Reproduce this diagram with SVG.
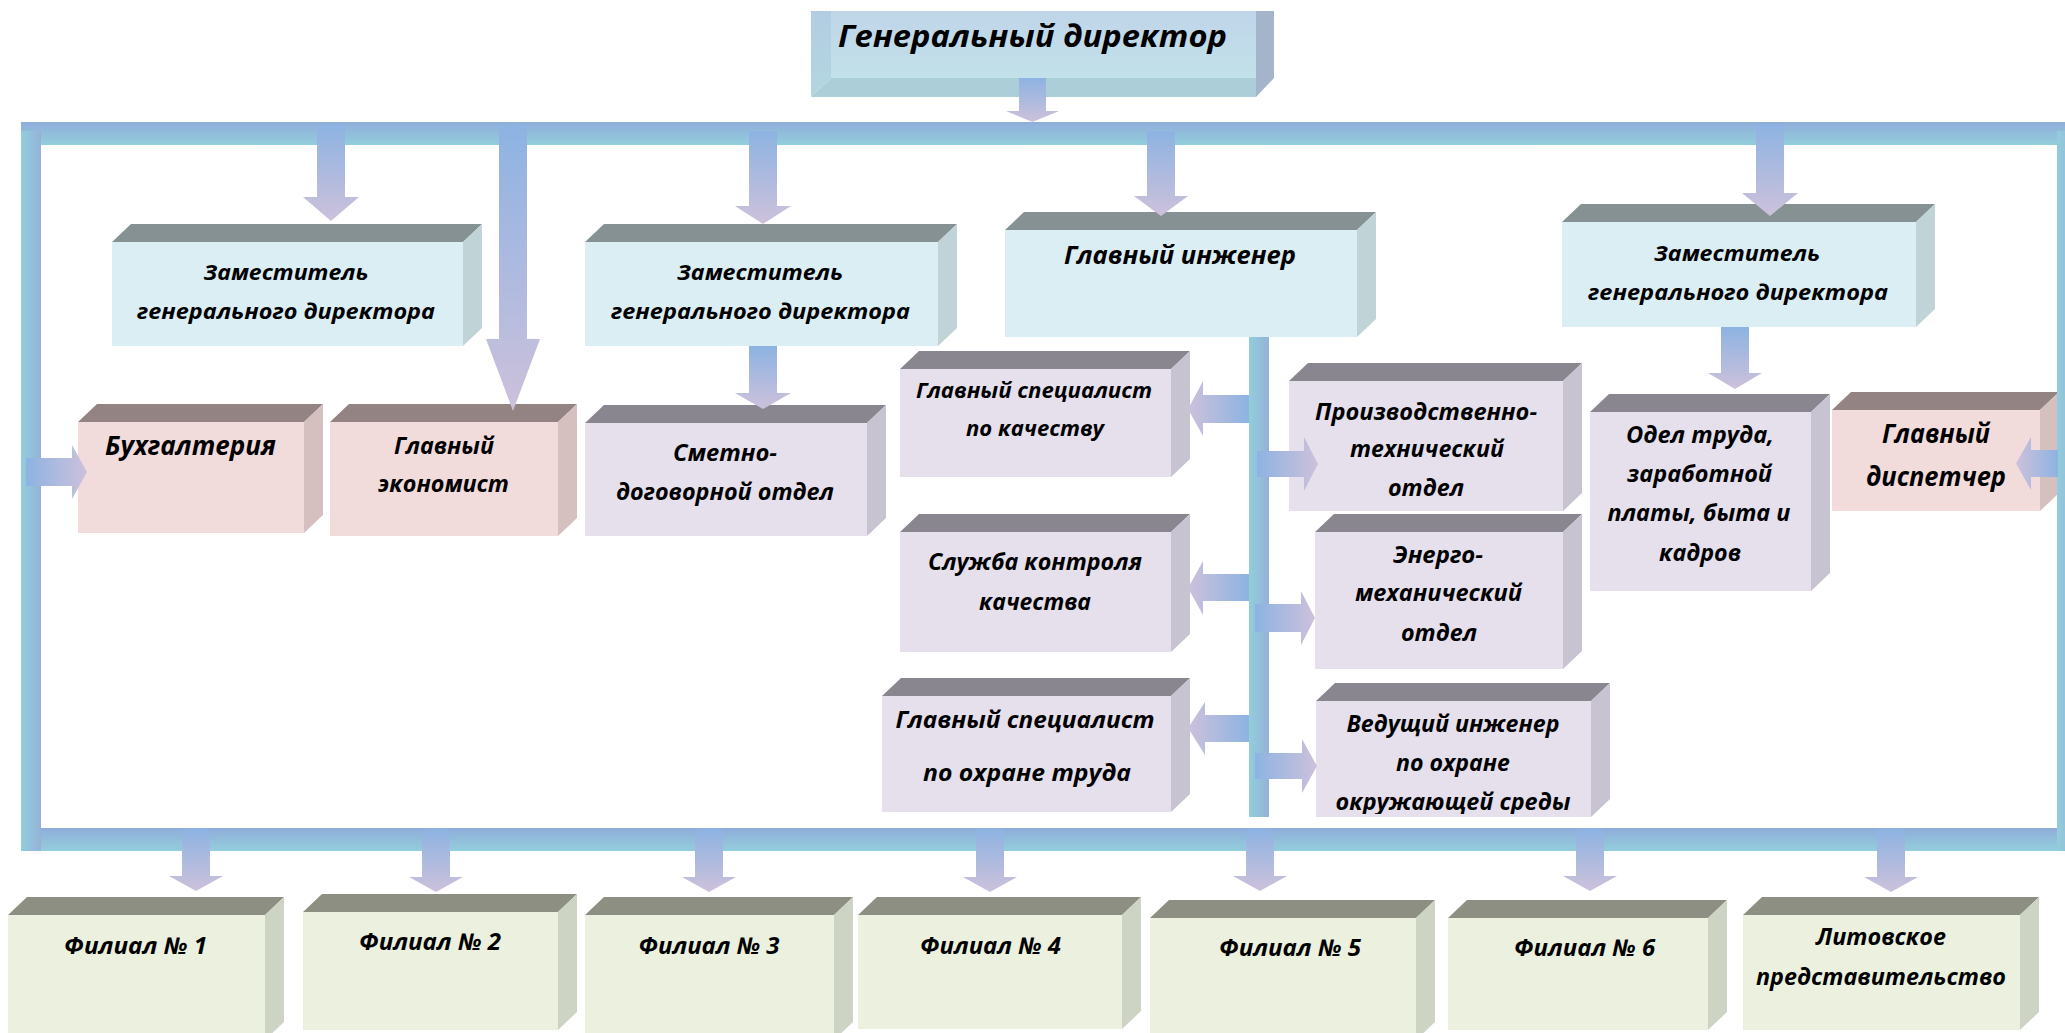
<svg xmlns="http://www.w3.org/2000/svg" width="2065" height="1033" viewBox="0 0 2065 1033">
<defs>
<linearGradient id="gDown" x1="0" y1="0" x2="0" y2="1"><stop offset="0" stop-color="#8DB3E2"/><stop offset="1" stop-color="#CDC1DB"/></linearGradient>
<linearGradient id="gRight" x1="0" y1="0" x2="1" y2="0"><stop offset="0" stop-color="#8DB3E2"/><stop offset="1" stop-color="#CDC1DB"/></linearGradient>
<linearGradient id="gLeft" x1="0" y1="0" x2="1" y2="0"><stop offset="0" stop-color="#CDC1DB"/><stop offset="1" stop-color="#8DB3E2"/></linearGradient>
<linearGradient id="gBandH" x1="0" y1="0" x2="0" y2="1"><stop offset="0" stop-color="#8FADDA"/><stop offset="1" stop-color="#93CEDC"/></linearGradient>
<linearGradient id="gBandV" x1="0" y1="0" x2="1" y2="0"><stop offset="0" stop-color="#92CEDC"/><stop offset="1" stop-color="#95B2D8"/></linearGradient>
<linearGradient id="gGdFront" x1="0" y1="0" x2="0" y2="1"><stop offset="0" stop-color="#BFD5E9"/><stop offset="1" stop-color="#C2E1E9"/></linearGradient>
<linearGradient id="gGdLeft" x1="0" y1="0" x2="0" y2="1"><stop offset="0" stop-color="#B2CDE3"/><stop offset="1" stop-color="#B3D6E0"/></linearGradient>
<clipPath id="clipVed"><rect x="1316" y="701" width="275" height="113"/></clipPath>
<style>
.t{font-family:"Open Sans","Noto Sans","DejaVu Sans",sans-serif;font-weight:700;font-style:italic;fill:#000;text-anchor:middle}
.s20{font-size:21px}.s22{font-size:23px}.s23{font-size:24px}.s25{font-size:26px}.s21{font-size:22px}
.blue .f{fill:#DBEEF4}.blue .tp{fill:#869194}.blue .sd{fill:#C0D4D8}
.pink .f{fill:#F2DCDB}.pink .tp{fill:#938382}.pink .sd{fill:#D6BFBF}
.lav .f{fill:#E5E0EC}.lav .tp{fill:#8A8690}.lav .sd{fill:#C8C3D1}
.grn .f{fill:#EBF1DE}.grn .tp{fill:#8C8F82}.grn .sd{fill:#CDD4C3}
.ad{fill:url(#gDown)}.ar{fill:url(#gRight)}.al{fill:url(#gLeft)}
</style>
</defs>
<rect width="2065" height="1033" fill="#FFFFFF"/>

<g id="nodes">
<g id="n-gd">
<rect x="831" y="11" width="425" height="67" fill="url(#gGdFront)"/>
<polygon points="811,11 831,11 831,78 811,97" fill="url(#gGdLeft)"/>
<polygon points="811,97 831,78 1256,78 1256,97" fill="#ABCED9"/>
<polygon points="1256,11 1274,11 1274,78 1256,97" fill="#A3B4CB"/>
<text class="t" font-size="31" x="1032.5" y="46.5" textLength="389" lengthAdjust="spacingAndGlyphs">Генеральный директор</text>
</g>

<g id="n-zam1" class="blue">
<polygon class="tp" points="112,242 131,224 482,224 463,242"/>
<polygon class="sd" points="463,242 482,224 482,328 463,346"/>
<rect class="f" x="112" y="242" width="351" height="104"/>
<text class="t s21" x="286" y="280" textLength="165" lengthAdjust="spacingAndGlyphs">Заместитель</text>
<text class="t s21" x="286" y="319" textLength="298" lengthAdjust="spacingAndGlyphs">генерального директора</text>
</g>
<g id="n-zam2" class="blue">
<polygon class="tp" points="585,242 604,224 957,224 938,242"/>
<polygon class="sd" points="938,242 957,224 957,328 938,346"/>
<rect class="f" x="585" y="242" width="353" height="104"/>
<text class="t s21" x="760" y="280" textLength="166" lengthAdjust="spacingAndGlyphs">Заместитель</text>
<text class="t s21" x="760.5" y="319" textLength="299" lengthAdjust="spacingAndGlyphs">генерального директора</text>
</g>
<g id="n-gi" class="blue">
<polygon class="tp" points="1005,230 1024,212 1376,212 1357,230"/>
<polygon class="sd" points="1357,230 1376,212 1376,319 1357,337"/>
<rect class="f" x="1005" y="230" width="352" height="107"/>
<text class="t" font-size="25" x="1180" y="264" textLength="232" lengthAdjust="spacingAndGlyphs">Главный инженер</text>
</g>
<g id="n-zam3" class="blue">
<polygon class="tp" points="1562,222 1581,204 1935,204 1916,222"/>
<polygon class="sd" points="1916,222 1935,204 1935,309 1916,327"/>
<rect class="f" x="1562" y="222" width="354" height="105"/>
<text class="t s21" x="1737" y="261" textLength="166" lengthAdjust="spacingAndGlyphs">Заместитель</text>
<text class="t s21" x="1738" y="300" textLength="300" lengthAdjust="spacingAndGlyphs">генерального директора</text>
</g>

<g id="n-buh" class="pink">
<polygon class="tp" points="78,422 97,404 323,404 304,422"/>
<polygon class="sd" points="304,422 323,404 323,515 304,533"/>
<rect class="f" x="78" y="422" width="226" height="111"/>
<text class="t s25" x="190.5" y="455" textLength="171" lengthAdjust="spacingAndGlyphs">Бухгалтерия</text>
</g>
<g id="n-econ" class="pink">
<polygon class="tp" points="330,422 349,404 577,404 558,422"/>
<polygon class="sd" points="558,422 577,404 577,518 558,536"/>
<rect class="f" x="330" y="422" width="228" height="114"/>
<text class="t s22" x="444" y="453.6" textLength="100" lengthAdjust="spacingAndGlyphs">Главный</text>
<text class="t s22" x="443.5" y="492" textLength="131" lengthAdjust="spacingAndGlyphs">экономист</text>
</g>
<g id="n-smet" class="lav">
<polygon class="tp" points="585,423 604,405 886,405 867,423"/>
<polygon class="sd" points="867,423 886,405 886,518 867,536"/>
<rect class="f" x="585" y="423" width="282" height="113"/>
<text class="t s22" x="725" y="461" textLength="104" lengthAdjust="spacingAndGlyphs">Сметно-</text>
<text class="t s22" x="725" y="500" textLength="218" lengthAdjust="spacingAndGlyphs">договорной отдел</text>
</g>
<g id="n-gsk" class="lav">
<polygon class="tp" points="900,369 919,351 1190,351 1171,369"/>
<polygon class="sd" points="1171,369 1190,351 1190,459 1171,477"/>
<rect class="f" x="900" y="369" width="271" height="108"/>
<text class="t s20" x="1034" y="397.5" textLength="236" lengthAdjust="spacingAndGlyphs">Главный специалист</text>
<text class="t s20" x="1035" y="436.4" textLength="138" lengthAdjust="spacingAndGlyphs">по качеству</text>
</g>
<g id="n-pto" class="lav">
<polygon class="tp" points="1289,381 1308,363 1582,363 1563,381"/>
<polygon class="sd" points="1563,381 1582,363 1582,493 1563,511"/>
<rect class="f" x="1289" y="381" width="274" height="130"/>
<text class="t s22" x="1426" y="419.6" textLength="222" lengthAdjust="spacingAndGlyphs">Производственно-</text>
<text class="t s22" x="1427" y="457" textLength="154" lengthAdjust="spacingAndGlyphs">технический</text>
<text class="t s22" x="1426" y="496" textLength="76" lengthAdjust="spacingAndGlyphs">отдел</text>
</g>
<g id="n-otd" class="lav">
<polygon class="tp" points="1590,412 1609,394 1830,394 1811,412"/>
<polygon class="sd" points="1811,412 1830,394 1830,573 1811,591"/>
<rect class="f" x="1590" y="412" width="221" height="179"/>
<text class="t s22" x="1700" y="443" textLength="148" lengthAdjust="spacingAndGlyphs">Одел труда,</text>
<text class="t s22" x="1699.5" y="482" textLength="145" lengthAdjust="spacingAndGlyphs">заработной</text>
<text class="t s22" x="1699" y="521" textLength="183" lengthAdjust="spacingAndGlyphs">платы, быта и</text>
<text class="t s22" x="1700" y="560.5" textLength="82" lengthAdjust="spacingAndGlyphs">кадров</text>
</g>
<g id="n-disp" class="pink">
<polygon class="tp" points="1832,410 1851,392 2059,392 2040,410"/>
<polygon class="sd" points="2040,410 2059,392 2059,493 2040,511"/>
<rect class="f" x="1832" y="410" width="208" height="101"/>
<text class="t s25" x="1936" y="443" textLength="108" lengthAdjust="spacingAndGlyphs">Главный</text>
<text class="t s25" x="1936" y="486" textLength="140" lengthAdjust="spacingAndGlyphs">диспетчер</text>
</g>
<g id="n-skk" class="lav">
<polygon class="tp" points="900,532 919,514 1190,514 1171,532"/>
<polygon class="sd" points="1171,532 1190,514 1190,634 1171,652"/>
<rect class="f" x="900" y="532" width="271" height="120"/>
<text class="t s22" x="1035" y="570" textLength="214" lengthAdjust="spacingAndGlyphs">Служба контроля</text>
<text class="t s22" x="1035" y="609.5" textLength="112" lengthAdjust="spacingAndGlyphs">качества</text>
</g>
<g id="n-emo" class="lav">
<polygon class="tp" points="1315,532 1334,514 1582,514 1563,532"/>
<polygon class="sd" points="1563,532 1582,514 1582,651 1563,669"/>
<rect class="f" x="1315" y="532" width="248" height="137"/>
<text class="t s22" x="1438" y="563" textLength="90" lengthAdjust="spacingAndGlyphs">Энерго-</text>
<text class="t s22" x="1438.5" y="601" textLength="167" lengthAdjust="spacingAndGlyphs">механический</text>
<text class="t s22" x="1439" y="641" textLength="76" lengthAdjust="spacingAndGlyphs">отдел</text>
</g>
<g id="n-gsot" class="lav">
<polygon class="tp" points="882,696 901,678 1190,678 1171,696"/>
<polygon class="sd" points="1171,696 1190,678 1190,794 1171,812"/>
<rect class="f" x="882" y="696" width="289" height="116"/>
<text class="t s23" x="1025" y="728" textLength="259" lengthAdjust="spacingAndGlyphs">Главный специалист</text>
<text class="t s23" x="1027" y="780.6" textLength="208" lengthAdjust="spacingAndGlyphs">по охране труда</text>
</g>
<g id="n-ved" class="lav">
<polygon class="tp" points="1316,701 1335,683 1610,683 1591,701"/>
<polygon class="sd" points="1591,701 1610,683 1610,799 1591,817"/>
<rect class="f" x="1316" y="701" width="275" height="116"/>
<g clip-path="url(#clipVed)">
<text class="t s22" x="1453" y="732" textLength="213" lengthAdjust="spacingAndGlyphs">Ведущий инженер</text>
<text class="t s22" x="1453" y="771.4" textLength="114" lengthAdjust="spacingAndGlyphs">по охране</text>
<text class="t s22" x="1453" y="810" textLength="235" lengthAdjust="spacingAndGlyphs">окружающей среды</text>
</g>
</g>

<g id="n-f1" class="grn">
<polygon class="tp" points="8,915 27,897 284,897 265,915"/>
<polygon class="sd" points="265,915 284,897 284,1022 265,1040"/>
<rect class="f" x="8" y="915" width="257" height="125"/>
<text class="t s22" x="135.6" y="954" textLength="143" lengthAdjust="spacingAndGlyphs">Филиал № 1</text>
</g>
<g id="n-f2" class="grn">
<polygon class="tp" points="303,912 322,894 577,894 558,912"/>
<polygon class="sd" points="558,912 577,894 577,1012 558,1030"/>
<rect class="f" x="303" y="912" width="255" height="118"/>
<text class="t s22" x="430" y="949.6" textLength="142" lengthAdjust="spacingAndGlyphs">Филиал № 2</text>
</g>
<g id="n-f3" class="grn">
<polygon class="tp" points="585,915 604,897 853,897 834,915"/>
<polygon class="sd" points="834,915 853,897 853,1022 834,1040"/>
<rect class="f" x="585" y="915" width="249" height="125"/>
<text class="t s22" x="709" y="954" textLength="141" lengthAdjust="spacingAndGlyphs">Филиал № 3</text>
</g>
<g id="n-f4" class="grn">
<polygon class="tp" points="858,915 877,897 1141,897 1122,915"/>
<polygon class="sd" points="1122,915 1141,897 1141,1011 1122,1029"/>
<rect class="f" x="858" y="915" width="264" height="114"/>
<text class="t s22" x="990.5" y="954" textLength="141" lengthAdjust="spacingAndGlyphs">Филиал № 4</text>
</g>
<g id="n-f5" class="grn">
<polygon class="tp" points="1150,918 1169,900 1435,900 1416,918"/>
<polygon class="sd" points="1416,918 1435,900 1435,1022 1416,1040"/>
<rect class="f" x="1150" y="918" width="266" height="122"/>
<text class="t s22" x="1290" y="956" textLength="142" lengthAdjust="spacingAndGlyphs">Филиал № 5</text>
</g>
<g id="n-f6" class="grn">
<polygon class="tp" points="1448,918 1467,900 1727,900 1708,918"/>
<polygon class="sd" points="1708,918 1727,900 1727,1012 1708,1030"/>
<rect class="f" x="1448" y="918" width="260" height="112"/>
<text class="t s22" x="1584.6" y="956" textLength="141" lengthAdjust="spacingAndGlyphs">Филиал № 6</text>
</g>
<g id="n-lit" class="grn">
<polygon class="tp" points="1743,915 1762,897 2039,897 2020,915"/>
<polygon class="sd" points="2020,915 2039,897 2039,1012 2020,1030"/>
<rect class="f" x="1743" y="915" width="277" height="115"/>
<text class="t s22" x="1881" y="945" textLength="130" lengthAdjust="spacingAndGlyphs">Литовское</text>
<text class="t s22" x="1881" y="984.7" textLength="250" lengthAdjust="spacingAndGlyphs">представительство</text>
</g>
</g>

<g id="connectors">
<rect x="21" y="122" width="2044" height="23" fill="url(#gBandH)"/>
<rect x="21" y="828" width="2044" height="23" fill="url(#gBandH)"/>
<rect x="21" y="131" width="20" height="720" fill="url(#gBandV)"/>
<rect x="2057" y="131" width="20" height="720" fill="url(#gBandV)"/>
<rect x="1249" y="337" width="20" height="480" fill="url(#gBandV)"/>

<path class="ad" d="M1019,78 H1046 V111 H1059 L1032.5,122 L1006,111 H1019 Z"/>
<path class="ad" d="M317,125 H345 V197 H359 L331,221 L303,197 H317 Z"/>
<path class="ad" d="M499,125 H527 V339 H540 L513,411 L486,339 H499 Z"/>
<path class="ad" d="M749,131 H777 V206 H791 L763,224 L735,206 H749 Z"/>
<path class="ad" d="M749,346 H777 V393 H791 L763,409 L735,393 H749 Z"/>
<path class="ad" d="M1147,131 H1175 V196 H1188 L1161,216 L1134,196 H1147 Z"/>
<path class="ad" d="M1756,124 H1784 V193 H1798 L1770,216 L1742,193 H1756 Z"/>
<path class="ad" d="M1721,327 H1749 V373 H1762 L1735,389 L1708,373 H1721 Z"/>

<path class="ad" d="M182,829 H210 V876 H223 L196,891 L169,876 H182 Z"/>
<path class="ad" d="M422,829 H450 V877 H463 L436,892 L409,877 H422 Z"/>
<path class="ad" d="M695,829 H723 V877 H736 L709,892 L682,877 H695 Z"/>
<path class="ad" d="M976,829 H1004 V877 H1017 L990,892 L963,877 H976 Z"/>
<path class="ad" d="M1246,829 H1274 V876 H1287 L1260,891 L1233,876 H1246 Z"/>
<path class="ad" d="M1576,829 H1604 V876 H1617 L1590,891 L1563,876 H1576 Z"/>
<path class="ad" d="M1877,829 H1905 V877 H1918 L1891,892 L1864,877 H1877 Z"/>

<path class="ar" d="M26,458 H72 V445 L87,472 L72,499 V486 H26 Z"/>
<path class="ar" d="M1257,451 H1304 V437 L1318,464 L1304,491 V477 H1257 Z"/>
<path class="ar" d="M1255,604 H1301 V591 L1315,618 L1301,645 V632 H1255 Z"/>
<path class="ar" d="M1255,753 H1302 V739 L1317,766 L1302,793 V779 H1255 Z"/>

<path class="al" d="M1249,395 H1203 V381 L1188,409 L1203,436 V423 H1249 Z"/>
<path class="al" d="M1249,574 H1203 V561 L1188,588 L1203,615 V601 H1249 Z"/>
<path class="al" d="M1249,715 H1205 V702 L1188,728 L1205,755 V742 H1249 Z"/>
<path class="al" d="M2058,450 H2031 V437 L2016,463.5 L2031,490 V477 H2058 Z"/>
</g>
</svg>
